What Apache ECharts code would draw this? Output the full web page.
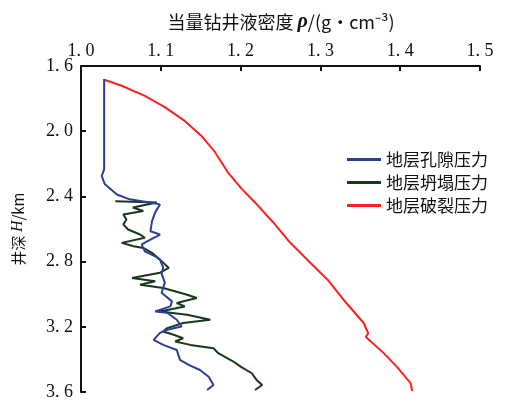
<!DOCTYPE html>
<html>
<head>
<meta charset="utf-8">
<script src="https://cdn.jsdelivr.net/npm/echarts@6/dist/echarts.min.js"></script>
<style>
  html, body { margin: 0; padding: 0; background: #fff; }
  #chart { width: 513px; height: 401px; }
</style>
</head>
<body>
<div id="chart"></div>
<script>
// 地层孔隙压力
const poreDensity = [1.029, 1.029, 1.026, 1.030, 1.045, 1.061, 1.082, 1.099, 1.093, 1.089, 1.087, 1.099, 1.087, 1.076, 1.080, 1.093, 1.099, 1.103, 1.101, 1.105, 1.101, 1.114, 1.112, 1.093, 1.108, 1.120, 1.126, 1.108, 1.099, 1.091, 1.103, 1.120, 1.124, 1.135, 1.149, 1.160, 1.166, 1.158];
const poreDepth   = [1.68, 2.234, 2.275, 2.326, 2.388, 2.418, 2.435, 2.449, 2.498, 2.552, 2.614, 2.634, 2.665, 2.695, 2.737, 2.767, 2.788, 2.837, 2.874, 2.929, 2.991, 3.044, 3.075, 3.106, 3.114, 3.157, 3.198, 3.218, 3.237, 3.280, 3.311, 3.342, 3.403, 3.434, 3.465, 3.506, 3.557, 3.588];

// 地层坍塌压力
const collapseDensity = [1.043, 1.095, 1.065, 1.078, 1.053, 1.057, 1.053, 1.059, 1.074, 1.080, 1.051, 1.066, 1.078, 1.089, 1.099, 1.110, 1.099, 1.064, 1.093, 1.074, 1.103, 1.133, 1.145, 1.120, 1.130, 1.099, 1.133, 1.162, 1.128, 1.108, 1.103, 1.116, 1.128, 1.118, 1.137, 1.166, 1.172, 1.191, 1.200, 1.214, 1.220, 1.227, 1.218];
const collapseDepth   = [2.429, 2.437, 2.468, 2.490, 2.511, 2.542, 2.572, 2.603, 2.634, 2.654, 2.685, 2.706, 2.716, 2.746, 2.788, 2.839, 2.868, 2.900, 2.921, 2.942, 2.962, 3.003, 3.023, 3.054, 3.075, 3.106, 3.126, 3.157, 3.177, 3.208, 3.229, 3.249, 3.270, 3.290, 3.311, 3.331, 3.362, 3.413, 3.444, 3.485, 3.526, 3.557, 3.588];

// 地层破裂压力
const fractureDensity = [1.029, 1.051, 1.080, 1.105, 1.130, 1.151, 1.168, 1.184, 1.202, 1.218, 1.241, 1.262, 1.287, 1.309, 1.329, 1.354, 1.360, 1.357, 1.379, 1.396, 1.413, 1.415];
const fractureDepth   = [1.684, 1.721, 1.783, 1.852, 1.937, 2.029, 2.129, 2.252, 2.357, 2.437, 2.560, 2.683, 2.806, 2.911, 3.034, 3.175, 3.240, 3.262, 3.360, 3.446, 3.545, 3.594];

const seriesNames = ['地层孔隙压力', '地层坍塌压力', '地层破裂压力'];
const seriesColors = ['#2b3f98', '#17381a', '#ff1f1f'];

const pair = (xs, ys) => xs.map((v, i) => [v, ys[i]]);
const seriesData = [
    pair(poreDensity, poreDepth),
    pair(collapseDensity, collapseDepth),
    pair(fractureDensity, fractureDepth),
];

const NUM_FONT = '"Liberation Serif", "DejaVu Serif", serif';
const CJK_FONT = '"Noto Sans CJK SC", sans-serif';
const spaced = v => v.toFixed(1).replace('.', '. ');

const chart = echarts.init(document.getElementById('chart'));

chart.setOption({
    animation: false,
    backgroundColor: '#fff',
    title: {
        text: '当量钻井液密度 {r|ρ}/(g·cm⁻³)',
        left: 276,
        top: 7,
        textAlign: 'center',
        textStyle: {
            fontFamily: CJK_FONT,
            fontSize: 18,
            fontWeight: 'normal',
            color: '#111',
            rich: {
                r: { fontFamily: NUM_FONT, fontSize: 20, fontWeight: 'bold', fontStyle: 'italic', color: '#111' }
            }
        }
    },
    legend: {
        orient: 'vertical',
        left: 342,
        top: 146,
        itemWidth: 34,
        itemHeight: 3,
        itemGap: 6,
        icon: 'rect',
        data: seriesNames,
        textStyle: { fontFamily: CJK_FONT, fontSize: 17, color: '#111' }
    },
    grid: { left: 81, top: 66, right: 33, bottom: 9, outerBoundsMode: 'none' },
    xAxis: {
        type: 'value',
        position: 'top',
        min: 1.0,
        max: 1.5,
        interval: 0.1,
        axisLine: { show: true, lineStyle: { color: '#111', width: 2 } },
        axisTick: { show: true, inside: true, length: 5, lineStyle: { color: '#111', width: 2 } },
        axisLabel: { formatter: spaced, fontFamily: NUM_FONT, fontSize: 18, color: '#111', margin: 6 },
        splitLine: { show: false }
    },
    yAxis: {
        type: 'value',
        inverse: true,
        min: 1.6,
        max: 3.6,
        interval: 0.4,
        name: '井深 {h|H}/km',
        nameLocation: 'middle',
        nameRotate: 90,
        nameGap: 55,
        nameTextStyle: {
            fontFamily: CJK_FONT,
            fontSize: 15,
            color: '#111',
            rich: { h: { fontFamily: NUM_FONT, fontStyle: 'italic', fontSize: 16, color: '#111' } }
        },
        axisLine: { show: true, lineStyle: { color: '#111', width: 2 } },
        axisTick: { show: true, inside: true, length: 5, lineStyle: { color: '#111', width: 2 } },
        axisLabel: { formatter: spaced, fontFamily: NUM_FONT, fontSize: 18, color: '#111', margin: 8 },
        splitLine: { show: false }
    },
    series: seriesNames.map((name, i) => ({
        name,
        type: 'line',
        data: seriesData[i],
        showSymbol: false,
        symbol: 'none',
        color: seriesColors[i],
        lineStyle: { color: seriesColors[i], width: 2 },
        z: i === 0 ? 3 : 2
    }))
});
</script>
</body>
</html>
